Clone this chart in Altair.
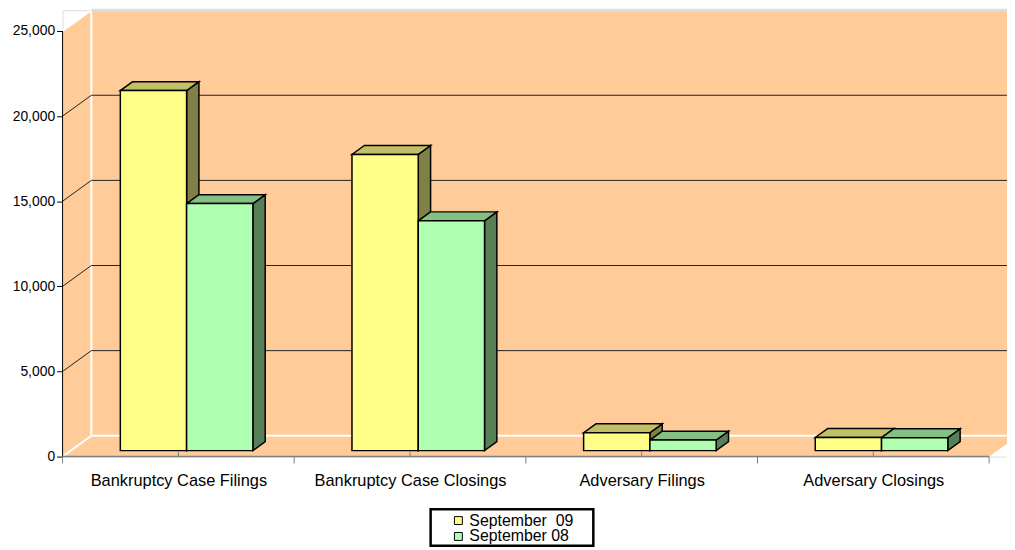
import json
import altair as alt
import pandas as pd

# ---------------- data ----------------
categories = ["Bankruptcy Case Filings", "Bankruptcy Case Closings",
              "Adversary Filings", "Adversary Closings"]
series = ["September\u00a0 09", "September 08"]
sep09 = [21150, 17400, 1050, 770]
sep08 = [14510, 13500, 620, 760]
y_ticks = [0, 5000, 10000, 15000, 20000, 25000]

# ---------------- styles ----------------
front_colors = ["#FFFF88", "#B0FFB0"]
top_colors = ["#C0C068", "#84C084"]
side_colors = ["#808046", "#588058"]
wall_color = "#FFCC99"
FONT = "Liberation Sans"

# ---------------- geometry (3-D projection constants) ----------------
W, H = 952, 450
BAND = 233.5                    # px per category
XMIN = -0.5
XMAX = XMIN + W / BAND
DX = 29 / BAND                  # wall depth (x units)
YMAX = 25000 / (1 - 21 / H)     # top of back wall
DY = YMAX - 25000               # wall depth (value units)
F0, F1 = 6 / 21, 15 / 21        # bar front / back depth fraction
BW = 66.8 / BAND                # bar width (x units)
XEND = len(categories) - 0.5

# legend frame (pixels, plot coordinates)
LEG_X, LEG_Y, LEG_W, LEG_H = 371, 503, 164, 37

xscale = alt.Scale(domain=[XMIN, XMAX], nice=False, zero=False)
yscale = alt.Scale(domain=[0, YMAX], nice=False, zero=False)

label_expr = json.dumps(categories) + "[round(datum.value)]"
xaxis = alt.Axis(values=list(range(len(categories))), labelExpr=label_expr,
                 ticks=False, domain=False, grid=False, labelFontSize=16.5,
                 labelPadding=16, labelLimit=400, labelColor="black",
                 labelFont=FONT, title=None)
yaxis = alt.Axis(values=y_ticks, format=",d", domain=False, grid=False,
                 tickSize=6, tickColor="black", tickWidth=1,
                 labelFontSize=14, labelPadding=2, labelColor="black",
                 labelFont=FONT, title=None)


def X(f, **kw):
    return alt.X(f, type="quantitative", scale=xscale, axis=xaxis, title=None, **kw)


def Y(f, **kw):
    return alt.Y(f, type="quantitative", scale=yscale, axis=yaxis, title=None, **kw)


# ---------------- bars ----------------
front_rows, top_rows, side_rows = [], [], []
ddx, ddy = (F1 - F0) * DX, (F1 - F0) * DY
for i in range(len(categories)):
    for s, vals in enumerate([sep09, sep08]):
        v = vals[i]
        x0 = i - BW + s * BW + F0 * DX
        x1 = x0 + BW
        b = F0 * DY
        t = b + v
        bid = f"{i}-{s}"
        front_rows.append(dict(series=series[s], x0=x0, x1=x1, b=b, t=t))
        top_rows += [dict(id=bid, y=t, xa=x0, xb=x1, col=top_colors[s]),
                     dict(id=bid, y=t + ddy, xa=x0 + ddx, xb=x1 + ddx, col=top_colors[s])]
        side_rows += [dict(id=bid, x=x1, ya=t, yb=b, col=side_colors[s]),
                      dict(id=bid, x=x1 + ddx, ya=t + ddy, yb=b + ddy, col=side_colors[s])]

front_df = pd.DataFrame(front_rows)
top_df = pd.DataFrame(top_rows)
side_df = pd.DataFrame(side_rows)

# ---------------- walls ----------------
back_df = pd.DataFrame([dict(xa=XMIN + DX, xb=XMAX, ya=DY, yb=YMAX)])
sidewall_df = pd.DataFrame([dict(x=XMIN, ya=25000, yb=0),
                            dict(x=XMIN + DX, ya=YMAX, yb=DY)])
floor_df = pd.DataFrame([dict(x=XMIN, ya=0, yb=0),
                         dict(x=XMIN + DX, ya=DY, yb=0),
                         dict(x=XEND, ya=DY, yb=0),
                         dict(x=XEND + DX, ya=DY, yb=DY)])

white_edges = pd.DataFrame([
    dict(x=XMIN + DX, x2=XMIN + DX, y=DY, y2=YMAX),
    dict(x=XMIN + DX, x2=XMAX, y=DY, y2=DY),
    dict(x=XMIN, x2=XMIN + DX, y=0, y2=DY),
    dict(x=XMIN, x2=XMIN + DX, y=25000, y2=YMAX),
])
top_edge = pd.DataFrame([dict(x=XMIN + DX, x2=XMAX, y=YMAX, y2=YMAX)])

grid_rows = []
for v in y_ticks[1:-1]:
    grid_rows.append(dict(x=XMIN + DX, x2=XMAX, y=v + DY, y2=v + DY))
    grid_rows.append(dict(x=XMIN, x2=XMIN + DX, y=v, y2=v + DY))
grid_df = pd.DataFrame(grid_rows)

yaxis_line = pd.DataFrame([dict(x=XMIN, x2=XMIN, y=0, y2=y_ticks[-1])])
xaxis_line = pd.DataFrame([dict(x=XMIN, x2=XEND, y=0, y2=0)])
bound_ticks = pd.DataFrame(dict(x=[i - 0.5 for i in range(len(categories) + 1)]))
center_ticks = pd.DataFrame(dict(x=list(range(len(categories)))))

# ---------------- layers ----------------
back = alt.Chart(back_df).mark_rect(color=wall_color).encode(
    x=X("xa"), x2="xb:Q", y=Y("ya"), y2="yb:Q")

sidewall = alt.Chart(sidewall_df).mark_area(color=wall_color, opacity=1).encode(
    x=X("x"), y=Y("ya"), y2="yb:Q")
floor = alt.Chart(floor_df).mark_area(color=wall_color, clip=True, opacity=1).encode(
    x=X("x"), y=Y("ya"), y2="yb:Q")

edges = alt.Chart(white_edges).mark_rule(color="white", strokeWidth=2, clip=True).encode(
    x=X("x"), x2="x2:Q", y=Y("y"), y2="y2:Q")
topline = alt.Chart(top_edge).mark_rule(color="#DDDDDD", strokeWidth=3).encode(
    x=X("x"), x2="x2:Q", y=Y("y"), y2="y2:Q")
grid = alt.Chart(grid_df).mark_rule(color="#222222", strokeWidth=1, clip=True).encode(
    x=X("x"), x2="x2:Q", y=Y("y"), y2="y2:Q")

sides = alt.Chart(side_df).mark_area(stroke="black", strokeWidth=1.5, opacity=1).encode(
    x=X("x"), y=Y("ya"), y2="yb:Q",
    color=alt.Color("col:N", scale=None), detail="id:N")
tops = alt.Chart(top_df).mark_area(orient="horizontal", stroke="black", strokeWidth=1.5,
                                    opacity=1).encode(
    y=Y("y"), x=X("xa"), x2="xb:Q",
    color=alt.Color("col:N", scale=None), detail="id:N")
fronts = alt.Chart(front_df).mark_rect(stroke="black", strokeWidth=1.5).encode(
    x=X("x0"), x2="x1:Q", y=Y("b"), y2="t:Q",
    fill=alt.Fill("series:N", sort=series,
                  scale=alt.Scale(domain=series, range=front_colors),
                  legend=alt.Legend(title=None, orient="none", legendX=LEG_X,
                                    legendY=LEG_Y + 1.5,
                                    symbolType="square", symbolSize=64,
                                    symbolStrokeColor="black", symbolStrokeWidth=1,
                                    labelFontSize=16, labelFont=FONT, labelColor="black",
                                    rowPadding=-2, padding=2, symbolOffset=18,
                                    labelOffset=3)),
)

# thick legend frame
frame = alt.Chart(pd.DataFrame([{"k": 0}])).mark_rect(
    filled=False, stroke="black", strokeWidth=2.5).encode(
    x=alt.value(LEG_X), x2=alt.value(LEG_X + LEG_W),
    y=alt.value(LEG_Y), y2=alt.value(LEG_Y + LEG_H))

yline = alt.Chart(yaxis_line).mark_rule(color="black", strokeWidth=1).encode(
    x=X("x"), x2="x2:Q", y=Y("y"), y2="y2:Q")
xline = alt.Chart(xaxis_line).mark_rule(color="#808080", strokeWidth=1.5).encode(
    x=X("x"), x2="x2:Q", y=Y("y"), y2="y2:Q")
bticks = alt.Chart(bound_ticks).mark_rule(color="#808080", strokeWidth=1).encode(
    x=X("x"), y=alt.value(H), y2=alt.value(H + 7))
cticks = alt.Chart(center_ticks).mark_rule(color="#808080", strokeWidth=1).encode(
    x=X("x"), y=alt.value(H - 5), y2=alt.value(H))

chart = alt.layer(
    back, sidewall, floor, edges, topline, grid,
    sides, tops, fronts,
    yline, xline, bticks, cticks, frame,
).properties(
    width=W, height=H,
    autosize=alt.AutoSizeParams(type="none"),
    padding={"left": 55, "top": 0, "right": 0, "bottom": 92},
    background="white",
).configure_view(
    stroke=None
).configure(font=FONT)

chart.save("out.html", embed_options={"renderer": "svg", "actions": False})
